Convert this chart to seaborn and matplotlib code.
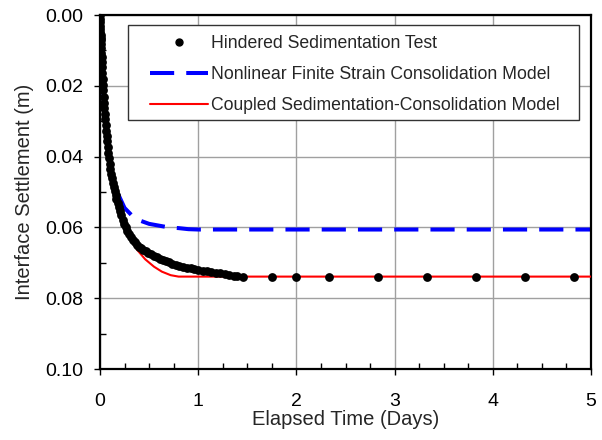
import matplotlib
matplotlib.use("Agg")
import matplotlib.pyplot as plt
from matplotlib.lines import Line2D
from matplotlib.patches import Rectangle
from matplotlib.ticker import MultipleLocator, FormatStrFormatter
import seaborn as sns

# Hindered sedimentation test readings (elapsed time in days, settlement in m)
test_time = [
    0.000, 0.001, 0.002, 0.003, 0.004, 0.005, 0.006, 0.007, 0.008, 0.010,
    0.012, 0.014, 0.016, 0.018, 0.020, 0.023, 0.026, 0.029, 0.032, 0.036,
    0.040, 0.044, 0.048, 0.052, 0.057, 0.062, 0.067, 0.072, 0.078, 0.084,
    0.090, 0.097, 0.104, 0.112, 0.120, 0.129, 0.138, 0.148, 0.158, 0.168,
    0.180, 0.192, 0.205, 0.218, 0.232, 0.247, 0.262, 0.278, 0.295, 0.313,
    0.332, 0.352, 0.373, 0.395, 0.418, 0.442, 0.467, 0.493, 0.520, 0.548,
    0.577, 0.607, 0.638, 0.670, 0.703, 0.737, 0.772, 0.808, 0.845, 0.883,
    0.922, 0.962, 1.003, 1.045, 1.088, 1.132, 1.177, 1.223, 1.270, 1.318,
    1.367, 1.400,
    1.46, 1.75, 2.00, 2.33, 2.83, 3.33, 3.83, 4.33, 4.83,
]
test_settlement = [
    0.0000, 0.0010, 0.0020, 0.0030, 0.0040, 0.0048, 0.0056, 0.0064, 0.0070, 0.0082,
    0.0094, 0.0106, 0.0120, 0.0133, 0.0146, 0.0163, 0.0181, 0.0198, 0.0213, 0.0231,
    0.0248, 0.0264, 0.0280, 0.0294, 0.0311, 0.0327, 0.0342, 0.0357, 0.0374, 0.0390,
    0.0404, 0.0420, 0.0434, 0.0448, 0.0461, 0.0474, 0.0486, 0.0497, 0.0508, 0.0519,
    0.0531, 0.0543, 0.0555, 0.0566, 0.0578, 0.0590, 0.0600, 0.0609, 0.0618, 0.0627,
    0.0635, 0.0642, 0.0649, 0.0654, 0.0659, 0.0663, 0.0668, 0.0672, 0.0676, 0.0680,
    0.0684, 0.0688, 0.0691, 0.0694, 0.0698, 0.0702, 0.0705, 0.0708, 0.0711, 0.0714,
    0.0716, 0.0718, 0.0720, 0.0722, 0.0724, 0.0726, 0.0728, 0.0730, 0.0732, 0.0734,
    0.0736, 0.0737,
    0.0739, 0.0739, 0.0739, 0.0739, 0.0739, 0.0739, 0.0739, 0.0739, 0.0739,
]

# Nonlinear finite strain consolidation model
nfs_time = [0.0, 0.01, 0.025, 0.05, 0.08, 0.12, 0.16, 0.20, 0.25, 0.32,
            0.40, 0.50, 0.60, 0.70, 0.80, 0.90, 1.00, 5.00]
nfs_settlement = [0.0, 0.008, 0.018, 0.029, 0.038, 0.045, 0.049, 0.0515, 0.0545, 0.0565,
                  0.0580, 0.0590, 0.0595, 0.0600, 0.0602, 0.0605, 0.0606, 0.0606]

# Coupled sedimentation-consolidation model
coupled_time = [0.0, 0.01, 0.025, 0.05, 0.08, 0.12, 0.17, 0.24, 0.30, 0.38,
                0.46, 0.55, 0.63, 0.72, 0.80, 5.00]
coupled_settlement = [0.0, 0.008, 0.019, 0.030, 0.040, 0.048, 0.053, 0.0595, 0.063, 0.0664,
                      0.0690, 0.0711, 0.0725, 0.0735, 0.0739, 0.0739]

labels = [
    "Hindered Sedimentation Test",
    "Nonlinear Finite Strain Consolidation Model",
    "Coupled Sedimentation-Consolidation Model",
]

sns.set_style("ticks")
plt.rcParams["font.family"] = ["Liberation Sans", "DejaVu Sans"]

fig = plt.figure(figsize=(6.02, 4.40), dpi=100)
ax = fig.add_axes([100 / 602, 1 - 369 / 440, 491 / 602, 354 / 440])

sns.lineplot(x=nfs_time, y=nfs_settlement, ax=ax, color="#0000ff", linewidth=2.9,
             linestyle=(0, (6, 3)), estimator=None, errorbar=None, zorder=2)
sns.lineplot(x=coupled_time, y=coupled_settlement, ax=ax, color="#ff0000", linewidth=1.5,
             estimator=None, errorbar=None, zorder=3)
sns.scatterplot(x=test_time, y=test_settlement, ax=ax, color="black", s=40,
                linewidth=0, zorder=4)

ax.set_xlim(0, 5)
ax.set_ylim(0.10, 0.00)
ax.xaxis.set_major_locator(MultipleLocator(1))
ax.xaxis.set_minor_locator(MultipleLocator(0.25))
ax.yaxis.set_major_locator(MultipleLocator(0.02))
ax.yaxis.set_minor_locator(MultipleLocator(0.01))
ax.yaxis.set_major_formatter(FormatStrFormatter("%.2f"))
ax.xaxis.set_major_formatter(FormatStrFormatter("%d"))

ax.grid(which="major", color="#a0a0a0", linewidth=1.0)
ax.set_axisbelow(True)
for sp in ax.spines.values():
    sp.set_visible(True)
    sp.set_color("black")
    sp.set_linewidth(1.6)

ax.tick_params(which="major", direction="out", length=4, width=1.0, colors="black",
               labelsize=14)
ax.tick_params(axis="x", which="major", pad=13)
ax.tick_params(axis="y", which="major", pad=8)
ax.tick_params(which="minor", direction="in", length=4.5, width=1.0, colors="black")

ax.set_xlabel("Elapsed Time (Days)", fontsize=14.5, labelpad=0)
ax.set_ylabel("Interface Settlement (m)", fontsize=14.5, labelpad=8)

# legend box drawn separately so the handle inset can be set freely
ax.add_patch(Rectangle((28 / 491, 1 - 10 / 354), 451 / 491, -95 / 354,
                       transform=ax.transAxes, facecolor="white", edgecolor="#333333",
                       linewidth=1.0, zorder=5))
handles = [
    Line2D([], [], linestyle="none", marker="o", markersize=5, color="black"),
    Line2D([], [], color="#0000ff", linewidth=2.9, linestyle=(0, (6, 3))),
    Line2D([], [], color="#ff0000", linewidth=1.5),
]
leg = ax.legend(handles, labels, loc="upper left", bbox_to_anchor=(50 / 491, 1 - 20 / 354),
                frameon=False, fontsize=12.7, handlelength=3.3, handletextpad=0.15,
                labelspacing=0.8, borderpad=0, borderaxespad=0)
leg.set_zorder(6)

fig.savefig("out.png", dpi=100)
